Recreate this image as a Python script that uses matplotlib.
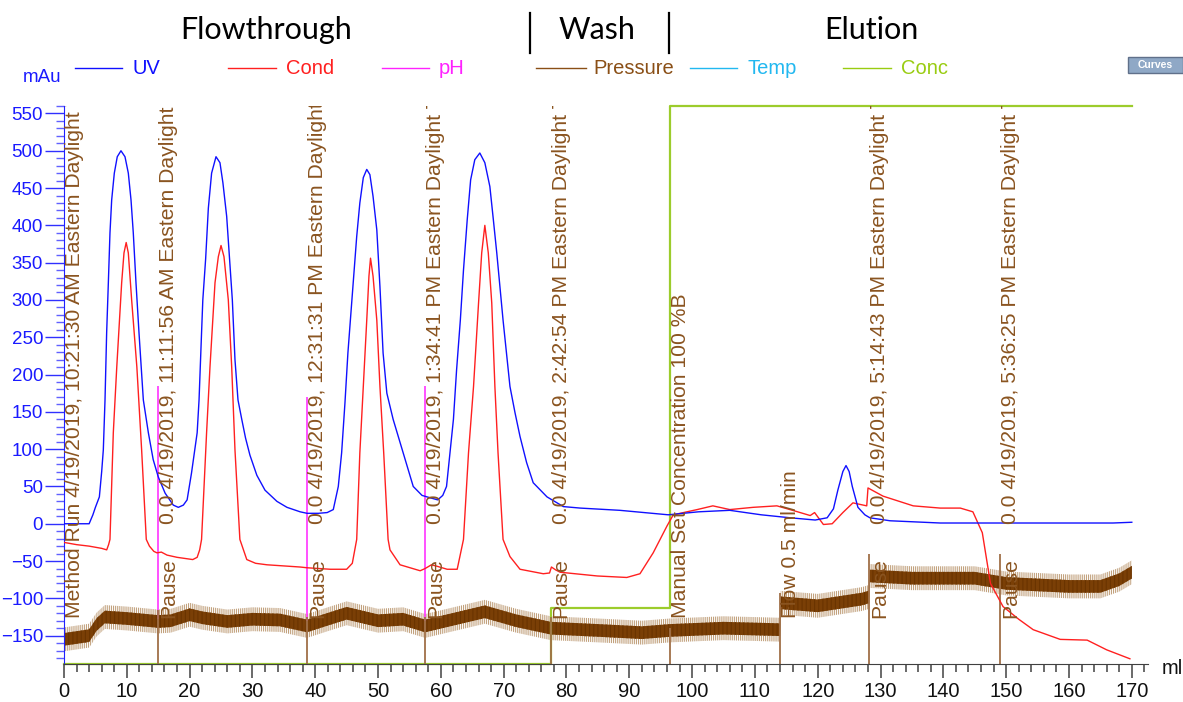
import matplotlib
matplotlib.use("Agg")
import matplotlib.pyplot as plt
from matplotlib.lines import Line2D
from matplotlib.patches import Rectangle

plt.rcParams['font.family'] = ['Liberation Sans', 'DejaVu Sans']
plt.rcParams['hatch.linewidth'] = 0.8

# ---------------- data ----------------
uv_ml = [0, 4.0, 4.6, 5.0, 5.63, 6.0, 6.26, 6.53, 6.79, 7.06, 7.32, 7.59, 8.01, 8.48, 9.07, 9.71,
         10.24, 10.67, 11.03, 11.46, 11.94, 12.63, 13.43, 14.2, 15.0, 16.1, 17.4, 18.2, 19.0,
         19.6, 20.3, 21.2, 21.5, 21.9, 22.1, 22.55, 22.98, 23.5, 24.2, 24.83, 25.3, 25.9, 26.8,
         27.22, 27.7, 28.3, 28.9, 29.6, 30.7, 32.0, 33.9, 35.5, 37.6, 38.7, 40.5, 41.9,
         42.87, 43.67, 44.2, 44.73, 45.2, 45.8, 46.6, 47.1, 47.65, 48.2, 48.7, 49.2, 49.8, 50.3,
         50.8, 51.4, 52.4, 54.0, 55.6, 57.0, 57.8, 59.5, 60.3, 60.9, 61.45, 62.0, 62.5, 63.1,
         63.6, 64.2, 64.74, 65.4, 66.2, 67.0, 67.8, 68.35, 68.9, 69.4, 69.9, 71.0, 71.8, 72.6,
         73.65, 74.7, 76.9, 79.5, 82.2, 88.5, 96.2, 101, 106, 111, 115.6, 119.6, 121.5, 122.5,
         123.2, 124.0, 124.5, 125.0, 125.5, 126.4, 127.5, 128.3, 131.5, 139.5, 167, 170]
uv_mau = [0, 0, 12, 22, 36, 70, 99, 166, 256, 323, 390, 434, 470, 492, 500, 492,
          470, 434, 390, 323, 256, 166, 122, 86, 63, 41, 25, 22, 25,
          32, 68, 122, 166, 256, 300, 355, 423, 470, 492, 484, 457, 412, 300,
          220, 166, 140, 115, 92, 65, 45, 30, 22, 16, 14, 14, 15,
          19, 50, 95, 162, 229, 296, 385, 430, 464, 475, 468, 439, 394, 318,
          229, 175, 140, 95, 50, 38, 36, 32, 38, 50, 95, 140, 206, 273,
          340, 408, 461, 488, 497, 484, 452, 408, 363, 318, 273, 184, 149, 117,
          82, 55, 36, 23, 21, 18, 12, 16, 18, 12, 8, 5, 8, 20,
          45, 70, 78, 70, 50, 22, 12, 8, 4, 1, 1, 2]

cond_ml = [0, 2, 4, 6.0, 6.8, 7.1, 7.32, 7.85, 8.4, 9.18, 9.55, 9.9, 10.24, 10.77, 11.6, 12.36,
           13.1, 13.6, 14.3, 14.8, 15.5, 16.4, 18, 20.5, 21.2, 21.6, 21.9, 22.7, 23.24, 24.04,
           24.57, 25.0, 25.47, 26.16, 26.7, 27.22, 28.0, 29.1, 30.5, 32.3, 37.6, 38.7, 42.4, 45,
           45.9, 46.6, 47.1, 47.65, 48.2, 48.55, 48.8, 49.2, 49.8, 50.3, 50.9, 51.6, 51.9, 53.5,
           56.7, 57.5, 58.5, 59.4, 61, 62.6, 63.0, 63.6, 64.4, 65.2, 66.0, 66.5, 67.0, 67.55, 68.1,
           68.6, 69.1, 69.9, 71, 72.6, 76.3, 77.3, 77.6, 78.3, 79, 84.9, 89.6, 91.7, 93.8, 96, 97,
           100.8, 103.3, 106, 109.7, 113.5, 116, 118.8, 119.5, 120.9, 122.3, 124, 125.6, 127.8,
           128.0, 130.4, 135.2, 139.5, 142.7, 144.7, 146.2, 147.5, 149.5, 152, 154.3, 158.6,
           162.9, 166, 169.7]
cond_y = [-25, -28, -30, -33, -35, -28, -21, 122, 210, 323, 363, 377, 363, 300, 210, 99,
          -21, -30, -37, -39, -38, -42, -45, -48, -45, -35, -21, 122, 210, 323,
          358, 373, 358, 300, 210, 99, -21, -48, -53, -55, -58, -59, -61, -61,
          -53, -21, 95, 184, 273, 332, 356, 332, 273, 184, 95, -21, -35, -55,
          -63, -60, -55, -57, -61, -61, -45, -21, 95, 184, 296, 363, 400, 363, 296,
          184, 95, -21, -44, -61, -67, -66, -58, -62, -65, -70, -72, -67, -39, -3, 12,
          19, 24, 19, 22, 24, 18, 11, 15, -1, 0, 15, 28, 24,
          48, 37, 24, 21, 21, 16, -12, -80, -111, -128, -142, -155,
          -156, -169, -181]

pres_ml = [0, 4, 5.2, 6.5, 10, 15, 17, 20, 22, 26, 30, 34.4, 38.7, 42, 45, 50, 54, 57.5, 62, 67,
           72, 77.5, 85, 92, 96.5, 105, 114, 114.1, 120, 127, 128.2, 128.3, 135, 145, 150, 160,
           165, 168, 170]
pres_mpa = [0.033, 0.038, 0.053, 0.063, 0.061, 0.057, 0.058, 0.066, 0.062, 0.057, 0.060, 0.059,
            0.051, 0.060, 0.068, 0.058, 0.060, 0.051, 0.060, 0.070, 0.058, 0.048, 0.045, 0.042,
            0.045, 0.048, 0.046, 0.082, 0.078, 0.087, 0.090, 0.118, 0.115, 0.115, 0.108, 0.104,
            0.104, 0.113, 0.123]

conc_ml = [0, 77.5, 77.5, 96.5, 96.5, 170]
conc_pct = [0, 0, 10, 10, 100, 100]

ph_ml = [0, 15, 38.7, 57.5]
ph_lo = [-170, -128, -130, -130]
ph_hi = [193, 184, 170, 184]

event_ml = [0, 15, 38.7, 57.5, 77.5, 96.5, 114, 128.2, 149]
event_name = ["Method Run 4/19/2019, 10:21:30 AM Eastern Daylight T", "Pause", "Pause",
              "Pause", "Pause", "Manual Set Concentration 100 %B", "Flow 0.5 ml/min",
              "Pause", "Pause"]
event_info = ["", "0.0 4/19/2019, 11:11:56 AM Eastern Daylight",
              "0.0 4/19/2019, 12:31:31 PM Eastern Daylight",
              "0.0 4/19/2019, 1:34:41 PM Eastern Daylight T",
              "0.0 4/19/2019, 2:42:54 PM Eastern Daylight T", "", "",
              "0.0 4/19/2019, 5:14:43 PM Eastern Daylight T",
              "0.0 4/19/2019, 5:36:25 PM Eastern Daylight T"]
event_top = [-125, -115, -125, -125, -125, -140, -93, -40, -40]

phases = ["Flowthrough", "Wash", "Elution"]
legend_names = ["UV", "Cond", "pH", "Pressure", "Temp", "Conc"]
x_ticks = list(range(0, 171, 10))
y_ticks = list(range(-150, 551, 50))

# ---------------- styles ----------------
C_UV = '#1010ff'
C_COND = '#ff2020'
C_PH = '#ff33ff'
C_PRES_D = '#7a3f06'
C_PRES_L = '#c2a27e'
C_TEMP = '#22b8f0'
C_CONC = '#9ccc2c'
C_TXT = '#8a5420'
C_EVT = '#a07048'
legend_colors = [C_UV, C_COND, '#ff22ff', '#8a4f16', C_TEMP, '#99cc11']

W, H = 1183, 702
fig = plt.figure(figsize=(W / 100, H / 100), dpi=100)

def fx(px):
    return px / W

def fy(py):
    return 1 - py / H

left_px, right_px, top_px, bot_px = 64, 1147.5, 106, 664
ax = fig.add_axes([fx(left_px), fy(bot_px), (right_px - left_px) / W, (bot_px - top_px) / H])
ax_p = ax.twinx()
ax_c = ax.twinx()
ax.set_zorder(3)
ax.patch.set_visible(False)
ax_p.set_zorder(1)
ax_c.set_zorder(2)

ax.set_xlim(0, 172.5)
ax.set_ylim(-188, 560)
ax_p.set_ylim(0, 0.748)
ax_c.set_ylim(0, 100)
for a in (ax_p, ax_c):
    a.axis('off')

# pressure band: light spiky hull (hatched) and dark core
lo_l = [p - 0.016 for p in pres_mpa]
hi_l = [p + 0.016 for p in pres_mpa]
lo_d = [p - 0.0085 for p in pres_mpa]
hi_d = [p + 0.0085 for p in pres_mpa]
ax_p.fill_between(pres_ml, lo_l, hi_l, facecolor='none', edgecolor=C_PRES_L,
                  hatch='||||||||', lw=0)
ax_p.fill_between(pres_ml, lo_d, hi_d, facecolor=C_PRES_D, edgecolor='#6a3400',
                  hatch='||||', lw=0)

# conc
ax_c.plot(conc_ml, conc_pct, color=C_CONC, lw=1.6, clip_on=False)

# pH event segments
ax.vlines(ph_ml, ph_lo, ph_hi, color=C_PH, lw=1.2, zorder=2)

# event marker lines
ax.vlines(event_ml, [-188] * len(event_ml), event_top, color=C_EVT, lw=1.3, zorder=2)

# UV and Cond
ax.plot(cond_ml, cond_y, color=C_COND, lw=1.0, zorder=4)
ax.plot(uv_ml, uv_mau, color=C_UV, lw=1.0, zorder=5)

# event texts
FS_EVT = 15.2
for xm, nm, inf in zip(event_ml, event_name, event_info):
    t = ax.text(xm + 0.15, -127, nm, rotation=90, ha='left', va='bottom', fontsize=FS_EVT,
                color=C_TXT, zorder=6)
    t.set_clip_on(True)
    if inf:
        t2 = ax.text(xm + 0.15, 0, inf, rotation=90, ha='left', va='bottom', fontsize=FS_EVT,
                     color=C_TXT, zorder=6)
        t2.set_clip_on(True)

# axes styling
for s in ('top', 'right'):
    ax.spines[s].set_visible(False)
ax.spines['left'].set_color('#2020ff')
ax.spines['bottom'].set_color('#404040')
ax.set_xticks(x_ticks)
ax.set_xticks([v for v in range(0, 173, 2) if v % 10], minor=True)
ax.set_yticks(y_ticks)
ax.set_yticks([v for v in range(-180, 561, 10) if v % 50], minor=True)
ax.tick_params(axis='x', which='major', length=10, width=1.2, color='#505050',
               labelsize=14.5, pad=3, labelcolor='#111111')
ax.tick_params(axis='x', which='minor', length=6, width=1.2, color='#505050')
ax.tick_params(axis='y', which='major', length=14, width=1, color='#3030ff',
               labelsize=13.5, pad=1, labelcolor='#1a1aff')
ax.tick_params(axis='y', which='minor', length=6, width=1, color='#6060ff')

# axis unit labels
fig.text(fx(42), fy(78), "mAu", color='#1a1aff', fontsize=13.5, ha='center', va='center')
fig.text(fx(1162), fy(669), "ml", color='#111111', fontsize=14.5, ha='left', va='center')

# legend row
leg_lines = [(75, 122), (228, 276), (382, 429), (536, 586), (690, 737), (843, 891)]
leg_text_x = [132, 286, 439, 593, 747, 901]
for (x0, x1), tx, nm, col in zip(leg_lines, leg_text_x, legend_names, legend_colors):
    fig.add_artist(Line2D([fx(x0), fx(x1)], [fy(68), fy(68)], color=col, lw=1.0))
    fig.text(fx(tx), fy(68), nm, color=col, fontsize=14.5, ha='left', va='center')

# phase headers
phase_x = [266, 597, 871]
for px, nm in zip(phase_x, phases):
    fig.text(fx(px), fy(30), nm, fontsize=22, ha='center', va='center', color='black',
             family=['Lato', 'DejaVu Sans'])
for bx in (530, 669):
    fig.add_artist(Line2D([fx(bx), fx(bx)], [fy(13), fy(53)], color='black', lw=1.6))

# "Curves" button
fig.add_artist(Rectangle((fx(1128), fy(73)), (1183 - 1128) / W, 16 / H, transform=fig.transFigure,
                         facecolor='#8fa8c6', edgecolor='#60708a', lw=1))
fig.text(fx(1155), fy(65), "Curves", color='white', fontsize=7.5, fontweight='bold',
         ha='center', va='center')

fig.savefig("out.png", dpi=100)
